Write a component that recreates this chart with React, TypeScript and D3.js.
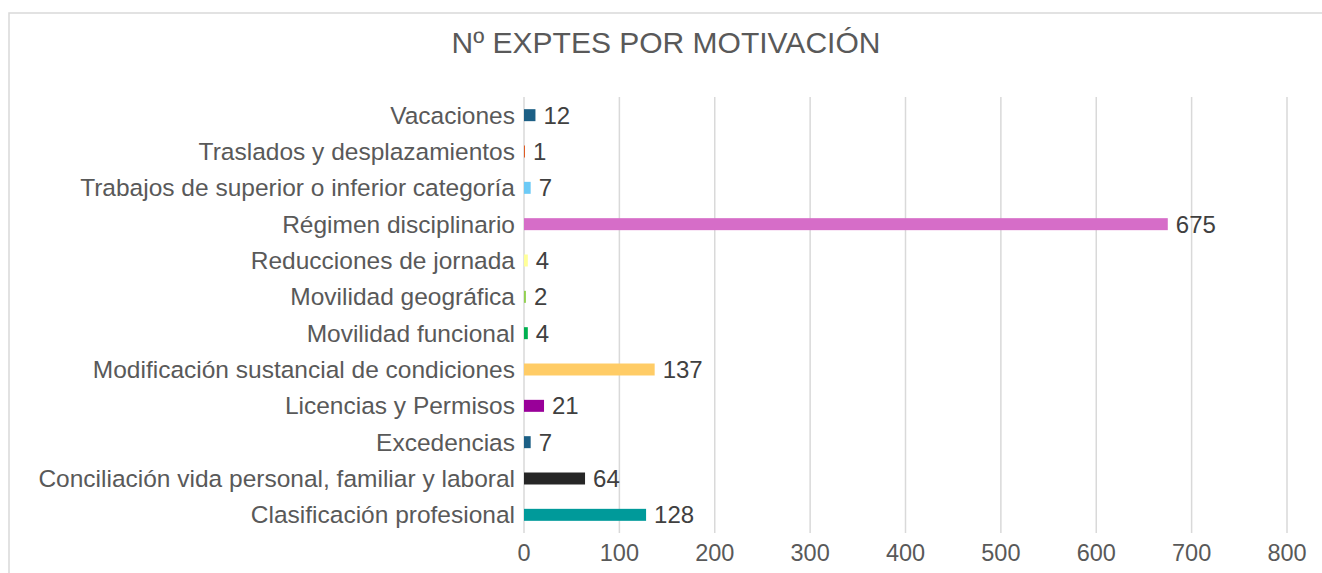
import React from "react";
import * as d3 from "d3";

const categories = [
  "Vacaciones",
  "Traslados y desplazamientos",
  "Trabajos de superior o inferior categoría",
  "Régimen disciplinario",
  "Reducciones de jornada",
  "Movilidad geográfica",
  "Movilidad funcional",
  "Modificación sustancial de condiciones",
  "Licencias y Permisos",
  "Excedencias",
  "Conciliación vida personal, familiar y laboral",
  "Clasificación profesional",
];
const values = [12, 1, 7, 675, 4, 2, 4, 137, 21, 7, 64, 128];
const colors = [
  "#1c5f85", "#e0561b", "#6ccaf6", "#d66dc8", "#ffff99", "#92d050",
  "#00b050", "#ffcc66", "#990099", "#1c5f85", "#262626", "#009a9a",
];
const ticks = [0, 100, 200, 300, 400, 500, 600, 700, 800];
const title = "Nº EXPTES POR MOTIVACIÓN";

export default function App() {
  const W = 1322, H = 573;
  const x = d3.scaleLinear().domain([0, 800]).range([524, 1287]);
  const y = d3.scaleBand().domain(categories).range([97, 533]).paddingInner(0.67).paddingOuter(0.335);
  const font = "Arial, 'Liberation Sans', sans-serif";
  const txt = "#595959";
  return (
    <svg width={W} height={H} style={{ position: "fixed", left: 0, top: 0, background: "#fff" }} fontFamily={font}>
      <rect x={9} y={13} width={W + 20} height={H + 20} fill="#fff" stroke="#d9d9d9" strokeWidth={1.5} />
      <text x={666} y={53} textAnchor="middle" fontSize={30} fill={txt}>{title}</text>
      {ticks.map((t) => (
        <g key={t}>
          <line x1={x(t)} x2={x(t)} y1={97} y2={533} stroke="#d9d9d9" strokeWidth={1.5} />
          <text x={x(t)} y={561} textAnchor="middle" fontSize={23.5} fill={txt}>{t}</text>
        </g>
      ))}
      {categories.map((c, i) => {
        const yy = y(c)!;
        const bh = y.bandwidth();
        const cy = yy + bh / 2;
        return (
          <g key={c}>
            <rect x={x(0)} y={yy} width={x(values[i]) - x(0)} height={bh} fill={colors[i]} />
            <text x={515} y={cy + 8.5} textAnchor="end" fontSize={24.5} fill={txt}>{c}</text>
            <text x={x(values[i]) + 8} y={cy + 8.5} fontSize={24} fill="#404040">{values[i]}</text>
          </g>
        );
      })}
    </svg>
  );
}
